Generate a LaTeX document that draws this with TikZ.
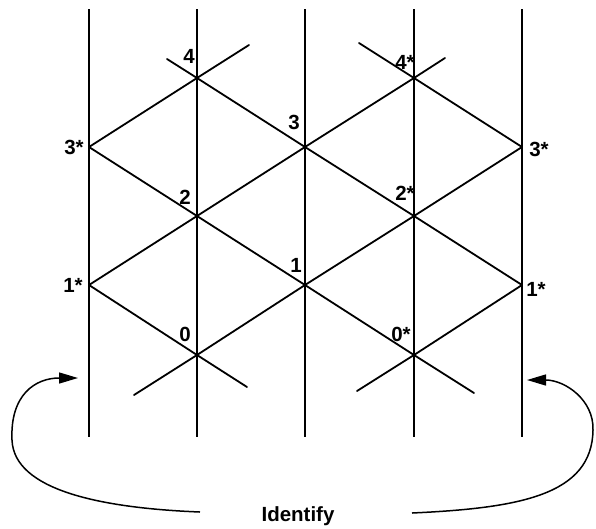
\documentclass[tikz,border=0pt]{standalone}
\usepackage{fontspec}
\setmainfont{Liberation Sans}
\usetikzlibrary{arrows.meta}
\tikzset{
  diagline/.style={line width=1.8pt, line cap=round},
  vline/.style={line width=1.6pt},
  lbl/.style={inner sep=0pt, font=\fontsize{20.5}{20.5}\selectfont\bfseries},
  idarrow/.style={line width=1.5pt, -{Triangle[length=19pt,width=11pt]}}
}
\begin{document}
\begin{tikzpicture}[x=1pt,y=-1pt]
\path[use as bounding box] (0,0) rectangle (596,528);
% vertical lines
\foreach \i/\x in {0/89,1/197,2/305,3/414,4/522}{
  \coordinate (T\i) at (\x,9);
  \coordinate (B\i) at (\x,437);
  \draw[vline] (T\i) -- (B\i);
}
% lattice points
\coordinate (P4) at (197,78);
\coordinate (P3sL) at (89,147);
\coordinate (P2) at (197,216);
\coordinate (P1sL) at (89,285);
\coordinate (P0) at (197,355);
\coordinate (P3) at (305,147);
\coordinate (P1) at (305,285);
\coordinate (P4s) at (414,78);
\coordinate (P2s) at (414,216);
\coordinate (P0s) at (414,355);
\coordinate (P3sR) at (522,147);
\coordinate (P1sR) at (522,285);
% free ends
\coordinate (E1) at (167,59);
\coordinate (E2) at (249,45);
\coordinate (E3) at (474,393);
\coordinate (E4) at (445,58);
\coordinate (E5) at (359,43);
\coordinate (E6) at (134,395);
\coordinate (E7) at (247,387);
\coordinate (E8) at (357,391);
% diagonals
\draw[diagline] (E1) -- (P4) -- (P3) -- (P2s) -- (P1sR);
\draw[diagline] (P3sL) -- (P4) -- (E2);
\draw[diagline] (P3sL) -- (P2) -- (P1) -- (P0s) -- (E3);
\draw[diagline] (P1sL) -- (P2) -- (P3) -- (P4s) -- (E4);
\draw[diagline] (E5) -- (P4s) -- (P3sR);
\draw[diagline] (P3sR) -- (P2s) -- (P1) -- (P0) -- (E6);
\draw[diagline] (P1sL) -- (P0) -- (E7);
\draw[diagline] (P1sR) -- (P0s) -- (E8);
% labels
\node[lbl] (L4) at (189,56) {4};
\node[lbl] (L3sL) at (74,147) {3*};
\node[lbl] (L2) at (185,197) {2};
\node[lbl] (L3) at (294,122) {3};
\node[lbl] (L4s) at (405,62) {4*};
\node[lbl] (L3sR) at (539,149) {3*};
\node[lbl] (L2s) at (405,193) {2*};
\node[lbl] (L1sL) at (73,285) {1*};
\node[lbl] (L1) at (296,265) {1};
\node[lbl] (L0) at (185,334) {0};
\node[lbl] (L0s) at (401,334) {0*};
\node[lbl] (L1sR) at (536,289) {1*};
\node[lbl] (Id) at (298,516) {Identify};
% identify arrows
\coordinate (AL) at (200,512);
\coordinate (TL) at (78,378);
\coordinate (AR) at (412,513);
\coordinate (TR) at (527,380);
\draw[idarrow] (AL) .. controls (100,508) and (14,490) .. (12,440)
  .. controls (10,395) and (35,378) .. (TL);
\draw[idarrow] (AR) .. controls (520,508) and (592,495) .. (593,430)
  .. controls (594,400) and (565,380) .. (TR);
\end{tikzpicture}
\end{document}
